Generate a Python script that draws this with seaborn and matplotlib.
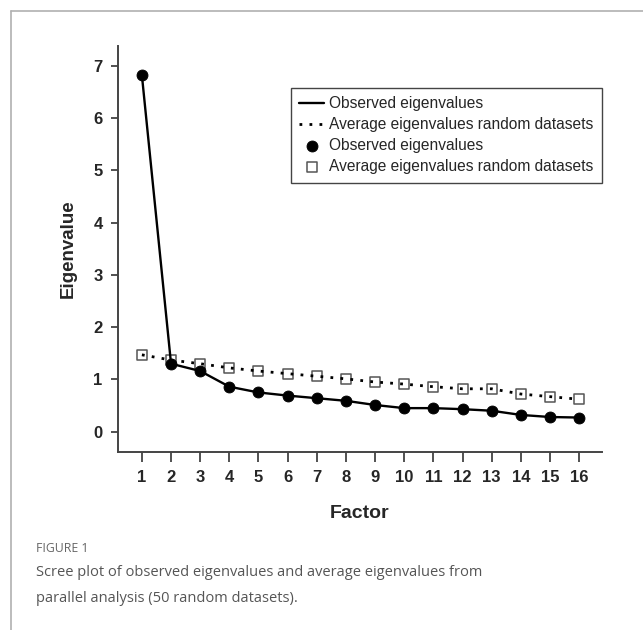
import seaborn as sns
import matplotlib.pyplot as plt
from matplotlib.lines import Line2D

# Data
factors = list(range(1, 17))
observed = [6.82, 1.30, 1.16, 0.86, 0.75, 0.69, 0.64, 0.59,
            0.51, 0.45, 0.45, 0.43, 0.40, 0.32, 0.28, 0.27]
random_avg = [1.47, 1.37, 1.30, 1.22, 1.16, 1.11, 1.06, 1.01,
              0.95, 0.91, 0.86, 0.82, 0.82, 0.72, 0.67, 0.62]
y_ticks = list(range(0, 8))

sns.set_style('ticks')
plt.rcParams['font.family'] = ['Liberation Sans', 'DejaVu Sans']

fig = plt.figure(figsize=(6.43, 6.3), dpi=100)
ax = fig.add_axes([0.1835, 0.2825, 0.7525, 0.6445])

# lines
sns.lineplot(x=factors, y=observed, color='black', lw=1.7,
             label='Observed eigenvalues', ax=ax, zorder=3)
sns.lineplot(x=factors, y=random_avg, color='black', lw=2.0,
             linestyle=(0, (1, 2.6)),
             label='Average eigenvalues random datasets', ax=ax, zorder=3)
# markers
sns.scatterplot(x=factors, y=observed, color='black', s=62, edgecolor='black',
                label='Observed eigenvalues', ax=ax, zorder=4)
sns.scatterplot(x=factors, y=random_avg, marker='s', color='white', s=58,
                edgecolor='#555555', linewidth=1.1,
                label='Average eigenvalues random datasets', ax=ax, zorder=2)

ax.set_xlim(0.18, 16.78)
ax.set_ylim(-0.39, 7.38)
ax.set_xticks(factors)
ax.set_yticks(y_ticks)
ax.tick_params(axis='x', length=7, width=1.2, color='#333333', pad=6, labelsize=12)
ax.tick_params(axis='y', length=5, width=1.2, color='#333333', pad=6, labelsize=12)
for lab in ax.get_xticklabels() + ax.get_yticklabels():
    lab.set_fontweight('bold')

sns.despine(ax=ax)
for side in ['left', 'bottom']:
    ax.spines[side].set_linewidth(1.4)
    ax.spines[side].set_color('#444444')

ax.set_xlabel('Factor', fontsize=14, fontweight='bold', labelpad=14)
ax.set_ylabel('Eigenvalue', fontsize=13.5, fontweight='bold', labelpad=12)

leg = ax.legend(loc='upper right', bbox_to_anchor=(1.0, 0.897), frameon=True,
                fancybox=False, edgecolor='#444444', framealpha=1, fontsize=11.2,
                handlelength=1.6, handletextpad=0.3, borderpad=0.55,
                labelspacing=0.38, borderaxespad=0)
leg.get_frame().set_linewidth(1.0)

# outer panel frame
fig.add_artist(Line2D([11 / 643, 11 / 643], [0, 1 - 11 / 630],
                      transform=fig.transFigure, color='#b0b0b0', lw=1.2))
fig.add_artist(Line2D([11 / 643, 1], [1 - 11 / 630, 1 - 11 / 630],
                      transform=fig.transFigure, color='#b0b0b0', lw=1.2))

# caption
fig.text(36 / 643, 1 - 549 / 630, 'FIGURE 1', fontsize=8.8, color='#666666',
         family='Open Sans', va='center')
fig.text(36 / 643, 1 - 572 / 630,
         'Scree plot of observed eigenvalues and average eigenvalues from',
         fontsize=10.5, color='#555555', family='Open Sans', va='center')
fig.text(36 / 643, 1 - 598 / 630, 'parallel analysis (50 random datasets).',
         fontsize=10.5, color='#555555', family='Open Sans', va='center')

fig.savefig('out.png', dpi=100)
